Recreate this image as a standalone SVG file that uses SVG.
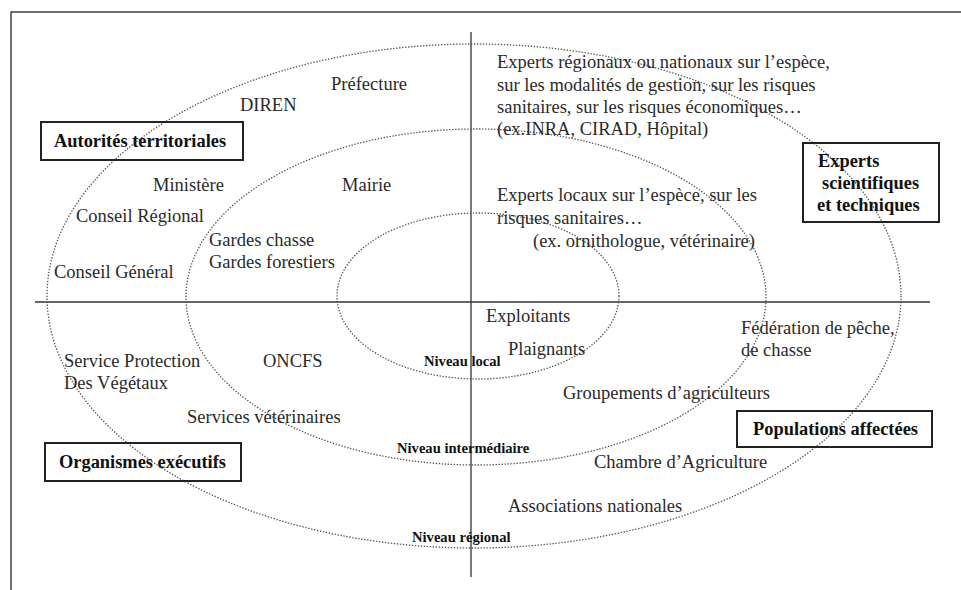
<svg xmlns="http://www.w3.org/2000/svg" width="961" height="590" viewBox="0 0 961 590">
<style>
text{font-family:"Liberation Serif","Times New Roman",serif;fill:#2a2a2a;font-size:18.5px}
.b{font-weight:bold;fill:#111;font-size:18.4px}
.n{font-weight:bold;fill:#111;font-size:14.6px}
.box{fill:none;stroke:#222;stroke-width:2}
.ring{fill:none;stroke:#555;stroke-width:1.3;stroke-dasharray:1.4 1.6}
.axis{stroke:#333;stroke-width:1.3}
</style>
<rect width="961" height="590" fill="#fff"/>
<rect x="11" y="12" width="970" height="600" fill="none" stroke="#222" stroke-width="1.3"/>
<g id="connectors">
<line class="axis" x1="471" y1="32" x2="471" y2="577"/>
<line class="axis" x1="35" y1="302" x2="930" y2="302"/>
</g>
<g id="rings">
<ellipse id="outer" class="ring" cx="474" cy="296" rx="427" ry="252"/>
<ellipse id="middle" class="ring" cx="476" cy="297" rx="290" ry="168"/>
<ellipse id="inner" class="ring" cx="478" cy="296" rx="141" ry="83"/>
</g>
<g id="autorites">
<rect class="box" x="41" y="122" width="202" height="38"/>
<text class="b" x="54" y="147">Autorités territoriales</text>
</g>
<g id="experts">
<rect class="box" x="803" y="143" width="136" height="79"/>
<text class="b" x="818" y="167">Experts</text>
<text class="b" x="822" y="189">scientifiques</text>
<text class="b" x="817" y="211">et techniques</text>
</g>
<g id="populations">
<rect class="box" x="737" y="411" width="195" height="36"/>
<text class="b" x="753" y="435">Populations affectées</text>
</g>
<g id="organismes">
<rect class="box" x="45" y="443" width="196" height="38"/>
<text class="b" x="59" y="468">Organismes exécutifs</text>
</g>
<g id="labels">
<text x="331" y="90">Préfecture</text>
<text x="240" y="111">DIREN</text>
<text x="153" y="191">Ministère</text>
<text x="342" y="191">Mairie</text>
<text x="76" y="222">Conseil Régional</text>
<text x="209" y="246">Gardes chasse</text>
<text x="209" y="268">Gardes forestiers</text>
<text x="54" y="278">Conseil Général</text>
<text x="497" y="68">Experts régionaux ou nationaux sur l’espèce,</text>
<text x="497" y="91">sur les modalités de gestion, sur les risques</text>
<text x="497" y="113">sanitaires, sur les risques économiques…</text>
<text x="497" y="135">(ex.INRA, CIRAD, Hôpital)</text>
<text x="497" y="201">Experts locaux sur l’espèce, sur les</text>
<text x="497" y="224">risques sanitaires…</text>
<text x="533" y="247">(ex. ornithologue, vétérinaire)</text>
<text x="64" y="367">Service Protection</text>
<text x="64" y="389">Des Végétaux</text>
<text x="263" y="367">ONCFS</text>
<text x="187" y="423">Services vétérinaires</text>
<text x="486" y="322">Exploitants</text>
<text x="508" y="355">Plaignants</text>
<text x="741" y="334">Fédération de pêche,</text>
<text x="741" y="356">de chasse</text>
<text x="563" y="399">Groupements d’agriculteurs</text>
<text x="594" y="468">Chambre d’Agriculture</text>
<text x="508" y="512">Associations nationales</text>
<text class="n" x="424" y="366">Niveau local</text>
<text class="n" x="397" y="453">Niveau intermédiaire</text>
<text class="n" x="412" y="542">Niveau régional</text>
</g>
</svg>
